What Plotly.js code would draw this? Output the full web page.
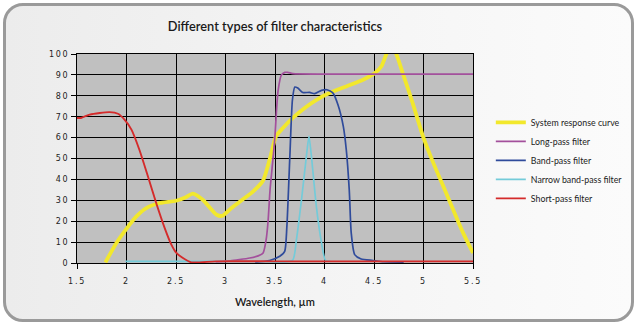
<!DOCTYPE html>
<html>
<head>
<meta charset="utf-8">
<script src="https://cdn.plot.ly/plotly-3.0.1.min.js"></script>
<style>
  html, body { margin: 0; padding: 0; background: #ffffff; }
  #frame {
    position: absolute; left: 3px; top: 3px; width: 625px; height: 313px;
    border: 3px solid #9a9a9a; border-radius: 20px;
    background: linear-gradient(to right, #ececec 0%, #f4f4f4 50%, #fbfbfb 100%);
  }
  #chart { position: absolute; left: 0; top: 0; width: 640px; height: 323px; }
  .xtick text, .ytick text { letter-spacing: 1.7px; }
</style>
</head>
<body>
<div id="frame"></div>
<div id="chart"></div>
<script>
// System response curve
const sysX = [1.787, 1.898, 2.005, 2.10, 2.20, 2.335, 2.50, 2.60, 2.67, 2.77, 2.91, 2.97, 3.06, 3.14, 3.28, 3.38, 3.45, 3.51, 3.58, 3.68, 3.80, 3.92, 4.05, 4.22, 4.39, 4.51, 4.575, 4.63, 4.675, 4.72, 4.79, 4.89, 4.995, 5.10, 5.20, 5.30, 5.40, 5.50];
const sysY = [0.3, 9.6, 16.7, 22.3, 26.3, 28.7, 29.8, 31.5, 33.2, 30.3, 23.1, 22.6, 26.3, 29.2, 34.3, 39.5, 50.2, 60.6, 64.6, 69.4, 74.2, 78.1, 81.3, 84.5, 87.7, 90.9, 94.1, 100.5, 103, 100.5, 90.9, 76.6, 60.6, 47.8, 36.7, 25.5, 14.4, 4.8];

// Long-pass filter
const lpX = [2.9, 3.05, 3.14, 3.245, 3.33, 3.38, 3.41, 3.43, 3.45, 3.47, 3.497, 3.53, 3.565, 3.60, 3.63, 3.68, 4.0, 4.5, 5.0, 5.5];
const lpY = [0.5, 1.0, 1.6, 2.4, 3.4, 4.8, 11, 20, 35, 45, 59, 82, 90, 91.2, 91.2, 90.6, 90.4, 90.4, 90.4, 90.4];

// Band-pass filter
const bpX = [3.3, 3.445, 3.548, 3.598, 3.62, 3.65, 3.676, 3.70, 3.73, 3.78, 3.85, 3.90, 3.97, 4.025, 4.086, 4.136, 4.19, 4.22, 4.25, 4.27, 4.305, 4.37, 4.49, 4.6, 4.8];
const bpY = [0.3, 1.2, 3.2, 5.6, 17.5, 51, 78, 84.2, 83.7, 81.6, 81.6, 81.0, 82.6, 82.9, 81.3, 75.7, 65.4, 54.2, 35, 14.4, 4.0, 1.9, 1.2, 0.6, 0.4];

// Narrow band-pass filter
const nbX = [1.99, 2.5, 2.9, 3.3, 3.675, 3.716, 3.767, 3.817, 3.843, 3.868, 3.918, 3.97, 4.01, 4.06];
const nbY = [0.8, 0.8, 0.8, 0.8, 1.2, 11, 30, 51, 60.6, 51, 27, 9.6, 1.2, 0.8];

// Short-pass filter
const spX = [1.5, 1.54, 1.628, 1.73, 1.83, 1.914, 1.98, 2.05, 2.13, 2.217, 2.30, 2.386, 2.453, 2.504, 2.57, 2.655, 2.9, 3.5, 4.5, 5.5];
const spY = [69.4, 69.4, 71.0, 71.8, 72.2, 71.4, 68.6, 63.8, 54.2, 41.4, 28.7, 16.7, 8.8, 4.8, 2.4, 0.3, 0.8, 0.8, 0.8, 0.8];

const names = ['System response curve', 'Long-pass filter', 'Band-pass filter', 'Narrow band-pass filter', 'Short-pass filter'];
const colors = ['#f2e82c', '#a3509c', '#2f4b9b', '#74cbd9', '#d42b2b'];
const widths = [3.8, 1.7, 1.7, 1.7, 1.9];
const xs = [sysX, lpX, bpX, nbX, spX];
const ys = [sysY, lpY, bpY, nbY, spY];

const traces = names.map((n, i) => ({
  x: xs[i], y: ys[i], name: n, type: 'scatter', mode: 'lines',
  line: { color: colors[i], width: widths[i], shape: 'spline', smoothing: 0.6 }
}));

const layout = {
  width: 640, height: 323,
  margin: { l: 77, r: 167, t: 54, b: 60 },
  paper_bgcolor: 'rgba(0,0,0,0)',
  plot_bgcolor: '#c0c0c0',
  title: {
    text: 'Different types of filter characteristics',
    font: { family: 'Lato', size: 12.8, color: '#1a1a1a', weight: 600 },
    x: 0.5, xref: 'paper', y: 0.918, yref: 'container', xanchor: 'center', yanchor: 'middle'
  },
  xaxis: {
    range: [1.5, 5.5], dtick: 0.5, tick0: 1.5,
    showgrid: true, gridcolor: '#000000', gridwidth: 1,
    showline: true, linecolor: '#000000', linewidth: 1, mirror: true,
    ticks: 'outside', ticklen: 5, tickcolor: '#000000',
    ticklabelstandoff: 5,
    tickfont: { family: 'DejaVu Sans', size: 8, color: '#222222' },
    zeroline: false,
    title: { text: 'Wavelength, µm', font: { family: 'Lato', size: 11, color: '#1a1a1a', weight: 600 }, standoff: 13 }
  },
  yaxis: {
    range: [0, 100], dtick: 10,
    showgrid: true, gridcolor: '#000000', gridwidth: 1,
    showline: true, linecolor: '#000000', linewidth: 1, mirror: true,
    ticks: 'outside', ticklen: 5, tickcolor: '#000000',
    tickfont: { family: 'DejaVu Sans', size: 8, color: '#222222' },
    zeroline: false
  },
  legend: {
    x: 1.045, xanchor: 'left', y: 0.742, yanchor: 'top',
    bgcolor: 'rgba(0,0,0,0)',
    font: { family: 'Lato', size: 8.8, color: '#222222' },
    tracegroupgap: 0
  },
  showlegend: true
};

Plotly.newPlot('chart', traces, layout, { staticPlot: true, displayModeBar: false });
</script>
</body>
</html>
